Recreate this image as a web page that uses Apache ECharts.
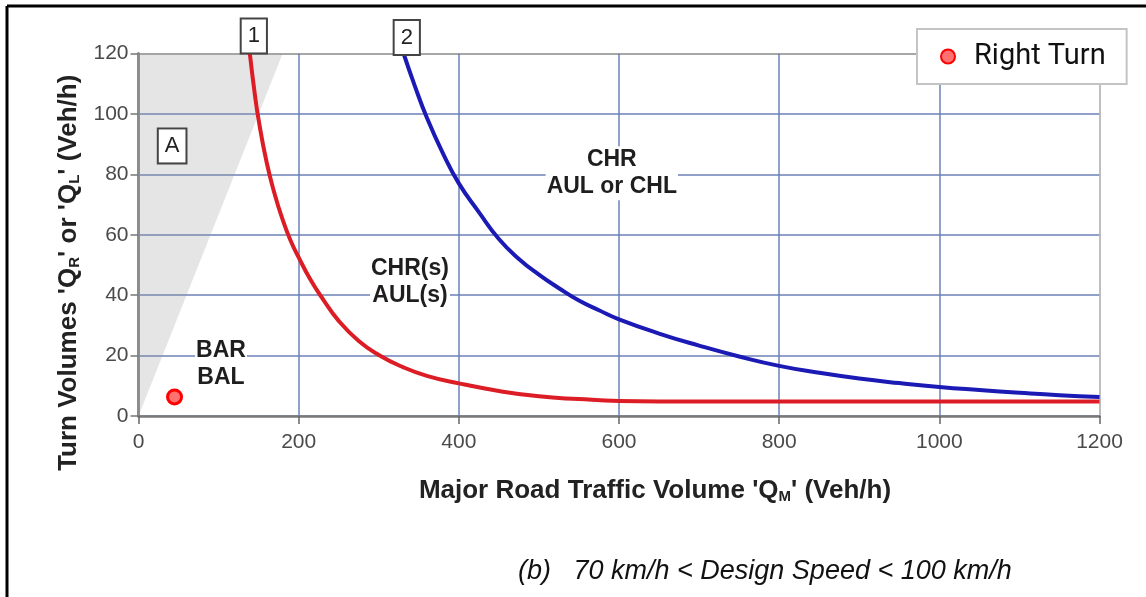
<!DOCTYPE html>
<html>
<head>
<meta charset="utf-8">
<script src="https://cdn.jsdelivr.net/npm/echarts@6/dist/echarts.min.js"></script>
<style>
  html, body { margin: 0; padding: 0; background: #fff; }
  #main { width: 1146px; height: 597px; }
</style>
</head>
<body>
<div id="main"></div>
<script>
// curve 1 (red)
const redX = [139, 145, 150, 160, 170, 180, 190, 200, 215, 230, 250, 275, 300, 330, 360, 400, 450, 500, 550, 600, 700, 800, 900, 1000, 1100, 1200]
const redY = [120, 107, 98, 84, 73.5, 65, 58, 52.5, 45, 38.8, 31.5, 24.8, 20.2, 16.2, 13.3, 10.8, 8.3, 6.5, 5.6, 5.0, 4.8, 4.8, 4.8, 4.8, 4.8, 4.8]
// curve 2 (blue)
const blueX = [331, 345, 360, 380, 400, 425, 450, 475, 500, 525, 550, 575, 600, 650, 700, 750, 800, 850, 900, 950, 1000, 1050, 1100, 1150, 1200]
const blueY = [120, 109.3, 98.8, 87, 77, 67.5, 58.6, 52, 46.8, 42.3, 38.2, 35, 32, 27.3, 23.3, 19.7, 16.6, 14.3, 12.4, 10.9, 9.6, 8.6, 7.7, 6.9, 6.3]
// region A (grey wedge), edge from origin to top
const wedgeX = [0, 180]
const wedgeY = [0, 120]
// the single right turn point
const rightTurn = [[45, 6.3]]
// tick values
const xTicks = [0, 200, 400, 600, 800, 1000, 1200]
const yTicks = [0, 20, 40, 60, 80, 100, 120]
// area labels (data coords)
const zoneLabels = [
  {name: 'CHR\nAUL or CHL', value: [591, 80.4]},
  {name: 'CHR(s)\nAUL(s)', value: [339, 44.4]},
  {name: 'BAR\nBAL', value: [103, 17.2]}
]
const boxLabels = [
  {name: '1', value: [144, 125.8]},
  {name: '2', value: [335, 125.3]},
  {name: 'A', value: [42, 89.4]}
]

const zip = (xs, ys) => xs.map((x, i) => [x, ys[i]])
const FONT = '"Liberation Sans", Arial, sans-serif'
const gridBlue = '#6b80b6'

const chart = echarts.init(document.getElementById('main'))

const option = {
  animation: false,
  backgroundColor: '#fff',
  title: {
    text: '(b)   70 km/h < Design Speed < 100 km/h',
    left: 513,
    top: 553,
    textStyle: {fontFamily: FONT, fontStyle: 'italic', fontWeight: 'normal', fontSize: 27, color: '#111'}
  },
  legend: {
    data: ['Right Turn'],
    left: 917,
    top: 29,
    padding: [13, 21, 13, 23],
    borderColor: '#c4c4c4',
    borderWidth: 2,
    backgroundColor: '#fff',
    itemWidth: 14,
    itemHeight: 14,
    textStyle: {fontFamily: 'Roboto', fontSize: 29, color: '#111', padding: [0, 0, 0, 14]}
  },
  grid: {left: 138.5, top: 53.5, right: 46.5, bottom: 181},
  xAxis: {
    type: 'value',
    min: xTicks[0],
    max: xTicks[xTicks.length - 1],
    interval: 200,
    name: "Major Road Traffic Volume 'Q{sub|M}' (Veh/h)",
    nameLocation: 'middle',
    nameGap: 61,
    nameTextStyle: {
      fontFamily: FONT, fontWeight: 'bold', fontSize: 26, color: '#222',
      padding: [0, 0, 0, 72],
      rich: {sub: {fontFamily: FONT, fontWeight: 'bold', fontSize: 15, color: '#222', padding: [12, 0, 0, 0]}}
    },
    axisLine: {lineStyle: {color: '#7a7a7a', width: 2.5}},
    axisTick: {length: 8, lineStyle: {color: '#666', width: 1.5}},
    axisLabel: {fontFamily: FONT, fontSize: 21, color: '#4a4a4a', margin: 16, formatter: v => String(v)},
    splitLine: {lineStyle: {color: [gridBlue, gridBlue, gridBlue, gridBlue, gridBlue, gridBlue, '#a8a8a8'], width: 1.5}}
  },
  yAxis: {
    type: 'value',
    min: yTicks[0],
    max: yTicks[yTicks.length - 1],
    interval: 20,
    name: "Turn Volumes 'Q{sub|R}' or 'Q{sub|L}' (Veh/h)",
    nameLocation: 'middle',
    nameGap: 54,
    nameTextStyle: {
      fontFamily: FONT, fontWeight: 'bold', fontSize: 26, color: '#222',
      padding: [0, 76, 0, 0],
      rich: {sub: {fontFamily: FONT, fontWeight: 'bold', fontSize: 15, color: '#222', padding: [12, 0, 0, 0]}}
    },
    axisLine: {lineStyle: {color: '#8c8c8c', width: 3}},
    axisTick: {length: 8, lineStyle: {color: '#777', width: 1.5}},
    axisLabel: {fontFamily: FONT, fontSize: 21, color: '#4a4a4a', margin: 10},
    splitLine: {lineStyle: {color: [gridBlue, gridBlue, gridBlue, gridBlue, gridBlue, gridBlue, '#8a8a8a'], width: 1.5}}
  },
  series: [
    {
      // grey wedge A: filled from the edge up to the top of the axis
      name: 'A',
      type: 'line',
      data: zip(wedgeX, wedgeY),
      symbol: 'none',
      lineStyle: {width: 0},
      areaStyle: {origin: 'end', color: 'rgba(150,150,150,0.36)'},
      z: 1
    },
    {
      name: '1',
      type: 'line',
      data: zip(redX, redY),
      smooth: 0.5,
      symbol: 'none',
      lineStyle: {color: '#dc1d26', width: 4},
      z: 3
    },
    {
      name: '2',
      type: 'line',
      data: zip(blueX, blueY),
      smooth: 0.5,
      symbol: 'none',
      lineStyle: {color: '#1c1ab4', width: 4},
      z: 3
    },
    {
      name: 'zones',
      type: 'scatter',
      data: zoneLabels,
      symbolSize: 0,
      clip: false,
      itemStyle: {opacity: 1},
      label: {
        show: true,
        position: 'inside',
        formatter: p => p.name,
        fontFamily: FONT, fontWeight: 'bold', fontSize: 23, lineHeight: 27, color: '#1e1e1e',
        opacity: 1,
        backgroundColor: '#fff',
        padding: [0, 1]
      },
      z: 4
    },
    {
      name: 'boxes',
      type: 'scatter',
      data: boxLabels,
      symbolSize: 0,
      clip: false,
      itemStyle: {opacity: 1},
      label: {
        show: true,
        position: 'inside',
        formatter: p => p.name,
        fontFamily: FONT, fontSize: 22, color: '#222',
        opacity: 1,
        backgroundColor: '#fff',
        borderColor: '#444',
        borderWidth: 2,
        padding: [6, 6, 5, 6]
      },
      z: 5
    },
    {
      name: 'Right Turn',
      type: 'scatter',
      data: rightTurn,
      symbol: 'circle',
      symbolSize: 14,
      itemStyle: {color: '#ff7070', borderColor: '#ff0000', borderWidth: 3, opacity: 1},
      z: 6
    }
  ],
  graphic: [
    {type: 'line', shape: {x1: 7, y1: 6, x2: 7, y2: 597}, style: {stroke: '#000', lineWidth: 3}},
    {type: 'line', shape: {x1: 7, y1: 6, x2: 1146, y2: 6}, style: {stroke: '#000', lineWidth: 3}}
  ]
}

chart.setOption(option)
</script>
</body>
</html>
